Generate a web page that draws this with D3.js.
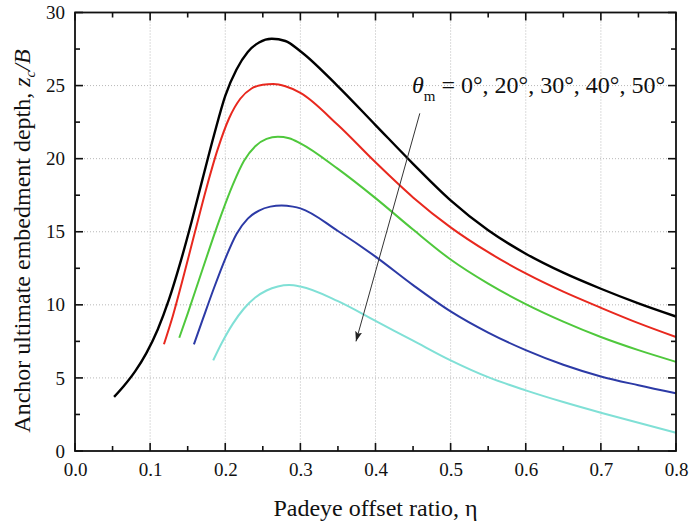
<!DOCTYPE html>
<html>
<head>
<meta charset="utf-8">
<script src="https://cdn.jsdelivr.net/npm/d3@7"></script>
<style>
  body { margin: 0; background: #fff; }
  text { font-family: "Liberation Serif", "DejaVu Serif", serif; fill: #111; }
</style>
</head>
<body>
<svg id="chart"></svg>
<script>
// curves, one per mooring angle (0, 20, 30, 40, 50 deg)
var eta0  = [0.052, 0.065, 0.08, 0.095, 0.11, 0.125, 0.14, 0.155, 0.17, 0.185, 0.2, 0.215, 0.23, 0.245, 0.262, 0.28, 0.3, 0.35, 0.4, 0.45, 0.5, 0.55, 0.6, 0.65, 0.7, 0.75, 0.8];
var z0    = [3.7, 4.45, 5.45, 6.7, 8.3, 10.35, 12.85, 15.65, 18.65, 21.6, 24.3, 26.1, 27.3, 27.95, 28.2, 28.05, 27.35, 24.95, 22.3, 19.65, 17.15, 15.1, 13.5, 12.2, 11.1, 10.1, 9.2];

var eta20 = [0.1184, 0.13, 0.145, 0.16, 0.175, 0.19, 0.205, 0.22, 0.235, 0.25, 0.264, 0.28, 0.3, 0.35, 0.4, 0.45, 0.5, 0.55, 0.6, 0.65, 0.7, 0.75, 0.8];
var z20   = [7.3, 9.2, 12.05, 15.05, 18.0, 20.65, 22.75, 24.1, 24.8, 25.05, 25.1, 24.95, 24.5, 22.3, 19.75, 17.35, 15.3, 13.6, 12.15, 10.9, 9.8, 8.75, 7.8];

var eta30 = [0.1388, 0.15, 0.165, 0.18, 0.195, 0.21, 0.225, 0.24, 0.255, 0.27, 0.285, 0.3, 0.35, 0.4, 0.45, 0.5, 0.55, 0.6, 0.65, 0.7, 0.75, 0.8];
var z30   = [7.75, 9.4, 11.7, 14.0, 16.2, 18.2, 19.85, 20.85, 21.35, 21.5, 21.4, 21.05, 19.3, 17.3, 15.15, 13.1, 11.45, 10.05, 8.85, 7.8, 6.9, 6.1];

var eta40 = [0.1583, 0.17, 0.185, 0.2, 0.215, 0.23, 0.245, 0.26, 0.275, 0.29, 0.3, 0.35, 0.4, 0.45, 0.5, 0.55, 0.6, 0.65, 0.7, 0.75, 0.8];
var z40   = [7.3, 9.0, 11.15, 13.15, 14.85, 15.9, 16.45, 16.72, 16.8, 16.72, 16.6, 15.05, 13.3, 11.35, 9.55, 8.1, 6.9, 5.9, 5.1, 4.5, 3.95];

var eta50 = [0.184, 0.195, 0.21, 0.225, 0.24, 0.255, 0.27, 0.285, 0.3, 0.35, 0.4, 0.45, 0.5, 0.55, 0.6, 0.65, 0.7, 0.75, 0.8];
var z50   = [6.2, 7.35, 8.7, 9.75, 10.5, 10.98, 11.25, 11.35, 11.25, 10.25, 8.9, 7.55, 6.2, 5.05, 4.15, 3.35, 2.62, 1.93, 1.25];

var colors = ["#000000", "#e8281e", "#4fc83c", "#2c3aa6", "#80e0d6"];
var xTicks = [0.0, 0.1, 0.2, 0.3, 0.4, 0.5, 0.6, 0.7, 0.8];
var yTicks = [0, 5, 10, 15, 20, 25, 30];
var xMinor = [0.05, 0.15, 0.25, 0.35, 0.45, 0.55, 0.65, 0.75];
var yMinor = [2.5, 7.5, 12.5, 17.5, 22.5, 27.5];
var arrowFrom = [0.459, 23.1];
var arrowTo = [0.374, 7.5];

var width = 690, height = 526;
var mLeft = 75, mRight = 676, mTop = 12.5, mBottom = 451;

var svg = d3.select("svg#chart")
    .attr("width", width)
    .attr("height", height);

var x = d3.scaleLinear().domain([0, 0.8]).range([mLeft, mRight]);
var y = d3.scaleLinear().domain([0, 30]).range([mBottom, mTop]);

// dotted grid at the major ticks
var grid = svg.append("g");
grid.selectAll("line.gx")
    .data(xTicks.slice(1, -1))
    .enter().append("line")
    .attr("x1", function(d) { return x(d) }).attr("x2", function(d) { return x(d) })
    .attr("y1", mTop).attr("y2", mBottom)
    .attr("stroke", "#b8b8b8").attr("stroke-width", 1).attr("stroke-dasharray", "1,2");
grid.selectAll("line.gy")
    .data(yTicks.slice(1, -1))
    .enter().append("line")
    .attr("y1", function(d) { return y(d) }).attr("y2", function(d) { return y(d) })
    .attr("x1", mLeft).attr("x2", mRight)
    .attr("stroke", "#b8b8b8").attr("stroke-width", 1).attr("stroke-dasharray", "1,2");

// curves
var line = d3.line()
    .x(function(d) { return x(d[0]) })
    .y(function(d) { return y(d[1]) })
    .curve(d3.curveMonotoneX);

var series = [[eta0, z0], [eta20, z20], [eta30, z30], [eta40, z40], [eta50, z50]];
svg.append("g").selectAll("path")
    .data(series)
    .enter().append("path")
    .attr("d", function(s) { return line(d3.zip(s[0], s[1])) })
    .attr("fill", "none")
    .attr("stroke", function(d, i) { return colors[i] })
    .attr("stroke-width", function(d, i) { return i == 0 ? 2.4 : 2 });

// tick labels
svg.append("g").attr("transform", "translate(0," + mBottom + ")")
    .call(d3.axisBottom(x).tickValues(xTicks).tickSize(0).tickPadding(12).tickFormat(d3.format(".1f")))
    .call(function(g) { g.select(".domain").remove() });
svg.append("g").attr("transform", "translate(" + mLeft + ",0)")
    .call(d3.axisLeft(y).tickValues(yTicks).tickSize(0).tickPadding(10))
    .call(function(g) { g.select(".domain").remove() });
svg.selectAll(".tick text")
    .style("font-family", "'Liberation Serif', serif")
    .style("font-size", "19px")
    .attr("fill", "#111");

// inward ticks on all four sides
var tickG = svg.append("g");
function xTickMarks(vals, len) {
    [[mBottom, -len], [mTop, len]].forEach(function(p) {
        tickG.selectAll(null).data(vals).enter().append("line")
            .attr("x1", function(d) { return x(d) }).attr("x2", function(d) { return x(d) })
            .attr("y1", p[0]).attr("y2", p[0] + p[1])
            .attr("stroke", "#111").attr("stroke-width", 1.6);
    });
}
function yTickMarks(vals, len) {
    [[mLeft, len], [mRight, -len]].forEach(function(p) {
        tickG.selectAll(null).data(vals).enter().append("line")
            .attr("y1", function(d) { return y(d) }).attr("y2", function(d) { return y(d) })
            .attr("x1", p[0]).attr("x2", p[0] + p[1])
            .attr("stroke", "#111").attr("stroke-width", 1.6);
    });
}
xTickMarks(xTicks, 8);
xTickMarks(xMinor, 5);
yTickMarks(yTicks, 8);
yTickMarks(yMinor, 5);

// frame
svg.append("rect")
    .attr("x", mLeft).attr("y", mTop)
    .attr("width", mRight - mLeft).attr("height", mBottom - mTop)
    .attr("fill", "none").attr("stroke", "#111").attr("stroke-width", 1.8);

// arrow
svg.append("defs").append("marker")
    .attr("id", "head")
    .attr("viewBox", "0 0 10 10")
    .attr("refX", 10).attr("refY", 5)
    .attr("markerWidth", 10).attr("markerHeight", 10)
    .attr("markerUnits", "userSpaceOnUse")
    .attr("orient", "auto")
    .append("path").attr("d", "M0,1.5 L10,5 L0,8.5 L2,5 Z").attr("fill", "#222");

svg.append("line")
    .attr("x1", x(arrowFrom[0])).attr("y1", y(arrowFrom[1]))
    .attr("x2", x(arrowTo[0])).attr("y2", y(arrowTo[1]))
    .attr("stroke", "#333").attr("stroke-width", 1)
    .attr("marker-end", "url(#head)");

// label
var lab = svg.append("text")
    .attr("x", 412).attr("y", 93)
    .style("font-size", "24px");
lab.append("tspan").style("font-style", "italic").text("θ");
lab.append("tspan").attr("dy", 8).style("font-size", "15px").text("m");
lab.append("tspan").attr("dy", -8).text(" = 0°, 20°, 30°, 40°, 50°");

// axis titles
svg.append("text")
    .attr("x", (mLeft + mRight) / 2).attr("y", 516)
    .attr("text-anchor", "middle")
    .style("font-size", "24px")
    .text("Padeye offset ratio, η");

var yt = svg.append("text")
    .attr("transform", "translate(30," + 241 + ") rotate(-90)")
    .attr("text-anchor", "middle")
    .style("font-size", "24px");
yt.append("tspan").text("Anchor ultimate embedment depth, ");
yt.append("tspan").style("font-style", "italic").text("z");
yt.append("tspan").style("font-style", "italic").style("font-size", "15px").attr("dy", 5).text("c");
yt.append("tspan").style("font-style", "italic").attr("dy", -5).text("/B");
</script>
</body>
</html>
